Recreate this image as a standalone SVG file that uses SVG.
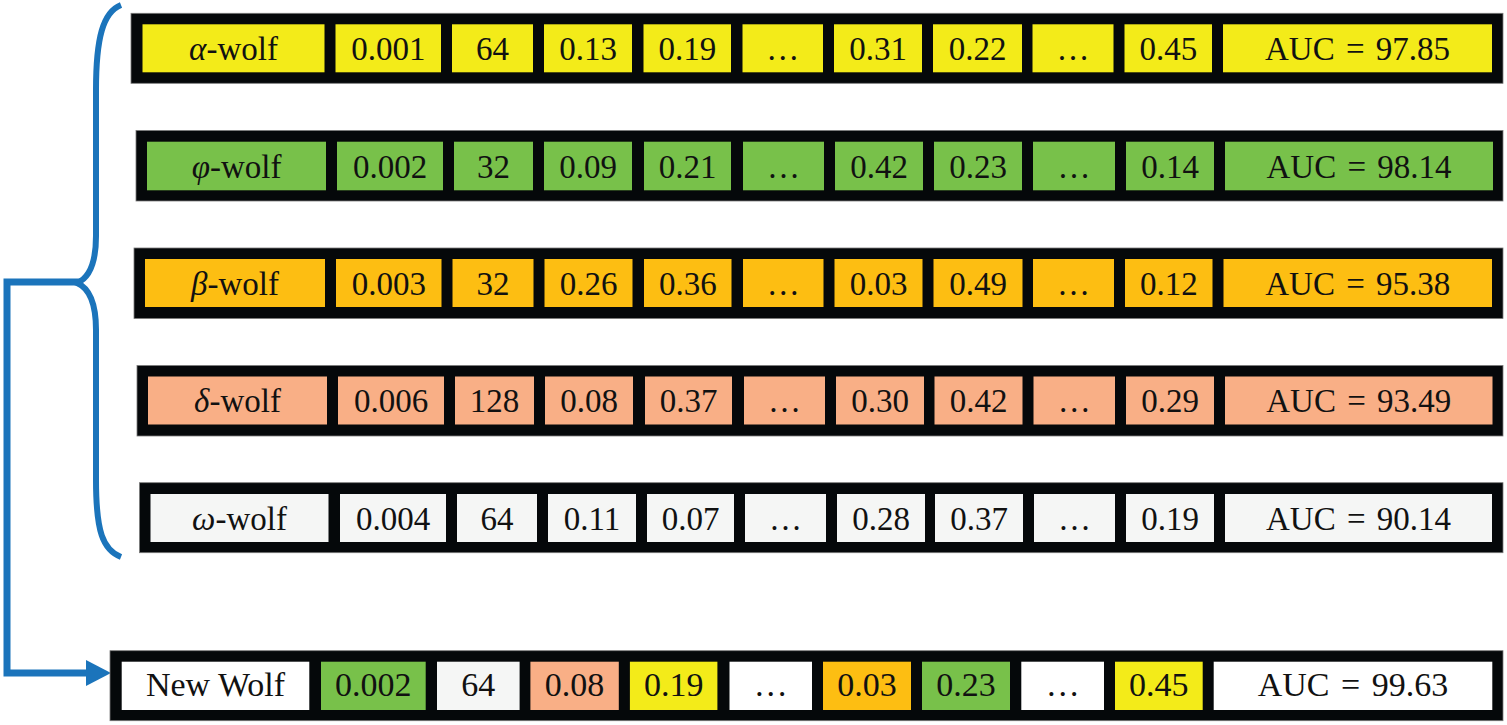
<svg xmlns="http://www.w3.org/2000/svg" width="1507" height="725" viewBox="0 0 1507 725">
<style>
.bar{fill:#05080a;stroke:#7a7a7a;stroke-width:0.8}
.y{fill:#f3eb19}.g{fill:#78c14a}.o{fill:#fdbe12}.s{fill:#f9af86}.w{fill:#f5f6f5}.p{fill:#ffffff}
text{font-family:"Liberation Serif","Times New Roman",serif;font-size:33px;fill:#111;text-anchor:middle}
.b text{font-size:34px}
.gk{font-style:italic}
.auc{word-spacing:3px}
.conn{fill:none;stroke:#1b74bb;stroke-linejoin:miter}
</style>
<defs>
<marker id="ah" markerUnits="userSpaceOnUse" markerWidth="26" markerHeight="27" refX="0" refY="13" orient="auto">
<path d="M0,0 L25,13 L0,26 Z" fill="#1b74bb"/>
</marker>
</defs>

<g id="connectors">
<path class="conn" stroke-width="6" d="M121,5 C103,12 96,38 96,90 L96,236 C96,262 89,278 77,283 C89,288 96,304 96,330 L96,480 C96,532 103,550 121,557"/>
<path class="conn" stroke-width="7" d="M80,282 L7,282 L7,673 L86,673" marker-end="url(#ah)"/>
</g>

<g id="alpha-wolf">
<rect class="bar" x="131" y="13.3" width="1372" height="70"/>
<rect class="y" x="142.5" y="24.3" width="182" height="48"/>
<rect class="y" x="335.5" y="24.3" width="105.5" height="48"/>
<rect class="y" x="452" y="24.3" width="81" height="48"/>
<rect class="y" x="544" y="24.3" width="88" height="48"/>
<rect class="y" x="643.5" y="24.3" width="87.5" height="48"/>
<rect class="y" x="742.5" y="24.3" width="80.5" height="48"/>
<rect class="y" x="834" y="24.3" width="88" height="48"/>
<rect class="y" x="933" y="24.3" width="89" height="48"/>
<rect class="y" x="1032.5" y="24.3" width="81" height="48"/>
<rect class="y" x="1124.5" y="24.3" width="87.5" height="48"/>
<rect class="y" x="1223" y="24.3" width="269" height="48"/>
<text x="233.5" y="60"><tspan class="gk">α</tspan>-wolf</text>
<text x="388.25" y="60">0.001</text>
<text x="492.5" y="60">64</text>
<text x="588" y="60">0.13</text>
<text x="687.25" y="60">0.19</text>
<text x="782.75" y="60">…</text>
<text x="878" y="60">0.31</text>
<text x="977.5" y="60">0.22</text>
<text x="1073" y="60">…</text>
<text x="1168.25" y="60">0.45</text>
<text class="auc" x="1357.5" y="60">AUC = 97.85</text>
</g>

<g id="phi-wolf">
<rect class="bar" x="136" y="130.5" width="1367" height="70.5"/>
<rect class="g" x="147" y="141.7" width="179" height="48.6"/>
<rect class="g" x="337" y="141.7" width="106" height="48.6"/>
<rect class="g" x="454" y="141.7" width="79" height="48.6"/>
<rect class="g" x="544" y="141.7" width="88" height="48.6"/>
<rect class="g" x="644" y="141.7" width="87" height="48.6"/>
<rect class="g" x="743" y="141.7" width="81" height="48.6"/>
<rect class="g" x="835" y="141.7" width="88" height="48.6"/>
<rect class="g" x="934" y="141.7" width="88" height="48.6"/>
<rect class="g" x="1033" y="141.7" width="82" height="48.6"/>
<rect class="g" x="1126" y="141.7" width="88" height="48.6"/>
<rect class="g" x="1225" y="141.7" width="268" height="48.6"/>
<text x="236.5" y="177.5"><tspan class="gk">φ</tspan>-wolf</text>
<text x="390" y="177.5">0.002</text>
<text x="493.5" y="177.5">32</text>
<text x="588" y="177.5">0.09</text>
<text x="687.5" y="177.5">0.21</text>
<text x="783.5" y="177.5">…</text>
<text x="879" y="177.5">0.42</text>
<text x="978" y="177.5">0.23</text>
<text x="1074" y="177.5">…</text>
<text x="1170" y="177.5">0.14</text>
<text class="auc" x="1359" y="177.5">AUC = 98.14</text>
</g>

<g id="beta-wolf">
<rect class="bar" x="134" y="248" width="1369" height="70.5"/>
<rect class="o" x="145" y="259" width="180" height="48"/>
<rect class="o" x="336" y="259" width="105.5" height="48"/>
<rect class="o" x="452.5" y="259" width="81" height="48"/>
<rect class="o" x="544.5" y="259" width="88" height="48"/>
<rect class="o" x="644" y="259" width="87.5" height="48"/>
<rect class="o" x="743" y="259" width="80.5" height="48"/>
<rect class="o" x="834.5" y="259" width="88" height="48"/>
<rect class="o" x="933.5" y="259" width="89" height="48"/>
<rect class="o" x="1033" y="259" width="81" height="48"/>
<rect class="o" x="1125" y="259" width="87.5" height="48"/>
<rect class="o" x="1223.5" y="259" width="268.5" height="48"/>
<text x="235" y="294.5"><tspan class="gk">β</tspan>-wolf</text>
<text x="388.75" y="294.5">0.003</text>
<text x="493" y="294.5">32</text>
<text x="588.5" y="294.5">0.26</text>
<text x="687.75" y="294.5">0.36</text>
<text x="783.25" y="294.5">…</text>
<text x="878.5" y="294.5">0.03</text>
<text x="978" y="294.5">0.49</text>
<text x="1073.5" y="294.5">…</text>
<text x="1168.75" y="294.5">0.12</text>
<text class="auc" x="1357.75" y="294.5">AUC = 95.38</text>
</g>

<g id="delta-wolf">
<rect class="bar" x="137" y="365.5" width="1366" height="70.5"/>
<rect class="s" x="148" y="376.5" width="179" height="48"/>
<rect class="s" x="338" y="376.5" width="106" height="48"/>
<rect class="s" x="455" y="376.5" width="79" height="48"/>
<rect class="s" x="545" y="376.5" width="88" height="48"/>
<rect class="s" x="645" y="376.5" width="87" height="48"/>
<rect class="s" x="744" y="376.5" width="81" height="48"/>
<rect class="s" x="836" y="376.5" width="88" height="48"/>
<rect class="s" x="934.5" y="376.5" width="88" height="48"/>
<rect class="s" x="1033.5" y="376.5" width="81.5" height="48"/>
<rect class="s" x="1126" y="376.5" width="88" height="48"/>
<rect class="s" x="1225" y="376.5" width="267.5" height="48"/>
<text x="237.5" y="412"><tspan class="gk">δ</tspan>-wolf</text>
<text x="391" y="412">0.006</text>
<text x="494.5" y="412">128</text>
<text x="589" y="412">0.08</text>
<text x="688.5" y="412">0.37</text>
<text x="784.5" y="412">…</text>
<text x="880" y="412">0.30</text>
<text x="978.5" y="412">0.42</text>
<text x="1074.25" y="412">…</text>
<text x="1170" y="412">0.29</text>
<text class="auc" x="1358.75" y="412">AUC = 93.49</text>
</g>

<g id="omega-wolf">
<rect class="bar" x="139.5" y="482.7" width="1363.5" height="70"/>
<rect class="w" x="150.5" y="494" width="178" height="48"/>
<rect class="w" x="340" y="494" width="106" height="48"/>
<rect class="w" x="457" y="494" width="80" height="48"/>
<rect class="w" x="548" y="494" width="88" height="48"/>
<rect class="w" x="647" y="494" width="87" height="48"/>
<rect class="w" x="745" y="494" width="81" height="48"/>
<rect class="w" x="837" y="494" width="88" height="48"/>
<rect class="w" x="935" y="494" width="88" height="48"/>
<rect class="w" x="1034" y="494" width="81" height="48"/>
<rect class="w" x="1126" y="494" width="88" height="48"/>
<rect class="w" x="1225" y="494" width="267" height="48"/>
<text x="239.5" y="529.5"><tspan class="gk">ω</tspan>-wolf</text>
<text x="393" y="529.5">0.004</text>
<text x="497" y="529.5">64</text>
<text x="592" y="529.5">0.11</text>
<text x="690.5" y="529.5">0.07</text>
<text x="785.5" y="529.5">…</text>
<text x="881" y="529.5">0.28</text>
<text x="979" y="529.5">0.37</text>
<text x="1074.5" y="529.5">…</text>
<text x="1170" y="529.5">0.19</text>
<text class="auc" x="1358.5" y="529.5">AUC = 90.14</text>
</g>

<g id="new-wolf" class="b">
<rect class="bar" x="110" y="650.7" width="1393" height="70"/>
<rect class="p" x="121.7" y="661.7" width="187.6" height="48.3"/>
<rect class="g" x="321" y="661.7" width="104.7" height="48.3"/>
<rect class="w" x="437" y="661.7" width="82.6" height="48.3"/>
<rect class="s" x="530.4" y="661.7" width="88.4" height="48.3"/>
<rect class="y" x="629.9" y="661.7" width="87.5" height="48.3"/>
<rect class="p" x="729.5" y="661.7" width="82.5" height="48.3"/>
<rect class="o" x="823" y="661.7" width="88" height="48.3"/>
<rect class="g" x="922" y="661.7" width="88" height="48.3"/>
<rect class="p" x="1021.3" y="661.7" width="82.7" height="48.3"/>
<rect class="y" x="1115" y="661.7" width="87.7" height="48.3"/>
<rect class="p" x="1213.7" y="661.7" width="278.6" height="48.3"/>
<text x="215.5" y="696">New Wolf</text>
<text x="373.35" y="696">0.002</text>
<text x="478.3" y="696">64</text>
<text x="574.6" y="696">0.08</text>
<text x="673.65" y="696">0.19</text>
<text x="770.75" y="696">…</text>
<text x="867" y="696">0.03</text>
<text x="966" y="696">0.23</text>
<text x="1062.65" y="696">…</text>
<text x="1158.85" y="696">0.45</text>
<text class="auc" x="1353" y="696">AUC = 99.63</text>
</g>
</svg>
